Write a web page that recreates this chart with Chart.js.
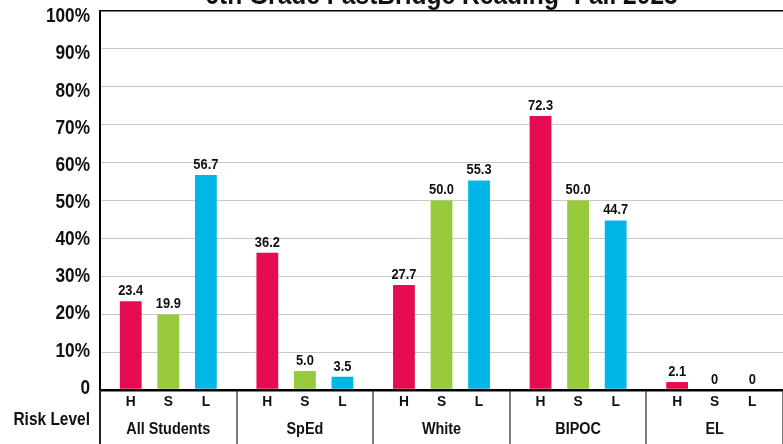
<!DOCTYPE html>
<html><head><meta charset="utf-8">
<script src="https://cdn.jsdelivr.net/npm/chart.js@4"></script>
<style>html,body{margin:0;padding:0;background:#fff}#wrap{width:783px;height:444px;position:relative}</style>
</head><body><div id="wrap"><canvas id="c"></canvas></div>
<script>
const chartTitle = '6th Grade FastBridge Reading- Fall 2023';
const groups = ['All Students', 'SpEd', 'White', 'BIPOC', 'EL'];
const riskLevels = ['H', 'S', 'L'];
const highRisk = [23.4, 36.2, 27.7, 72.3, 2.1];
const someRisk = [19.9, 5.0, 50.0, 50.0, 0];
const lowRisk  = [56.7, 3.5, 55.3, 44.7, 0];
const yMax = 100, yStep = 10;
const axisTitle = 'Risk Level';

const FONT = '"Liberation Sans",Arial,sans-serif';
const colors = ['#E60C50', '#97C93D', '#00B6E6'];

function txt(ctx, s, x, y, size, align, base, sx) {
  ctx.save();
  ctx.font = 'bold ' + size + 'px ' + FONT;
  ctx.textAlign = align;
  ctx.textBaseline = base;
  ctx.translate(x, y);
  ctx.scale(sx, 1);
  ctx.fillText(s, 0, 0);
  ctx.restore();
}

const overlay = {
  id: 'overlay',
  afterDraw(chart) {
    const ctx = chart.ctx, ca = chart.chartArea, xs = chart.scales.x, ys = chart.scales.y;
    ctx.save();
    ctx.fillStyle = '#111';
    // title (cut off at the top of the picture)
    txt(ctx, chartTitle, (ca.left + ca.right) / 2, 4, 27, 'center', 'alphabetic', 0.91);
    // y tick labels
    ys.ticks.forEach(t => {
      const f = t.value / yMax;
      const y = ys.getPixelForValue(t.value) + 5.5 * f - 2 * (1 - f);
      txt(ctx, t.value === 0 ? '0' : t.value + '%', ca.left - 10, y, 21, 'right', 'middle', 0.82);
    });
    // value labels and risk-level letters
    chart.data.datasets.forEach((ds, di) => {
      const meta = chart.getDatasetMeta(di);
      meta.data.forEach((bar, i) => {
        const v = ds.data[i];
        txt(ctx, v === 0 ? '0' : v.toFixed(1), bar.x, bar.y - 3, 14, 'center', 'bottom', 0.92);
        txt(ctx, riskLevels[di], bar.x, ca.bottom + 12, 15, 'center', 'middle', 0.92);
      });
    });
    // group names
    groups.forEach((g, i) => {
      txt(ctx, g, xs.getPixelForValue(i), ca.bottom + 40, 16, 'center', 'middle', 0.9);
    });
    // separators
    ctx.strokeStyle = '#222';
    const w = (ca.right - ca.left) / groups.length;
    for (let i = 0; i <= groups.length; i++) {
      const x = Math.round(ca.left + i * w);
      ctx.lineWidth = i === 0 ? 2 : 1.2;
      ctx.beginPath();
      ctx.moveTo(x, ca.bottom);
      ctx.lineTo(x, chart.height);
      ctx.stroke();
    }
    // axis title
    txt(ctx, axisTitle, ca.left - 10, ca.bottom + 30, 18, 'right', 'middle', 0.86);
    ctx.restore();
  }
};

new Chart(document.getElementById('c'), {
  type: 'bar',
  data: {
    labels: groups,
    datasets: [
      { label: 'H', data: highRisk, backgroundColor: colors[0] },
      { label: 'S', data: someRisk, backgroundColor: colors[1] },
      { label: 'L', data: lowRisk, backgroundColor: colors[2] }
    ]
  },
  options: {
    responsive: true,
    maintainAspectRatio: false,
    animation: false,
    devicePixelRatio: 1,
    layout: { padding: { top: 11, bottom: 54, left: 0, right: 0 } },
    categoryPercentage: 0.825,
    barPercentage: 0.58,
    plugins: { legend: { display: false }, tooltip: { enabled: false }, title: { display: false } },
    scales: {
      x: { display: false },
      y: {
        min: 0, max: yMax,
        ticks: { stepSize: yStep, display: false },
        grid: {
          drawTicks: false,
          color: c => (c.tick.value === 0 || c.tick.value === yMax) ? '#000' : '#c8c8c8',
          lineWidth: c => c.tick.value === 0 ? 2.5 : (c.tick.value === yMax ? 1.5 : 1)
        },
        border: { color: '#000', width: 2 },
        afterFit: s => { s.width = 100; }
      }
    }
  },
  plugins: [overlay]
});
</script>
</body></html>
